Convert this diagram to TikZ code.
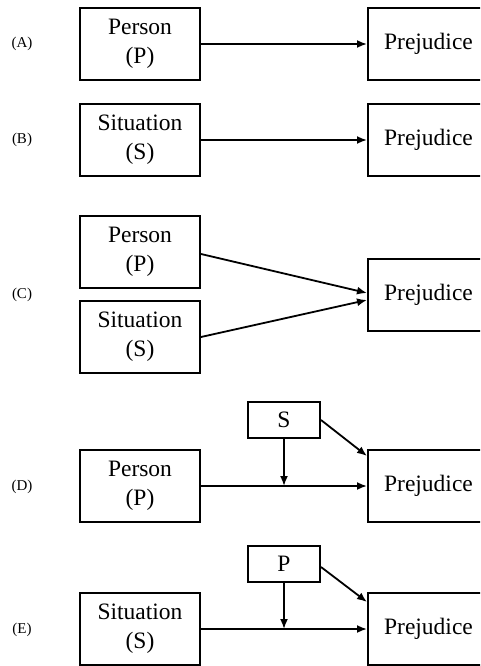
\documentclass[tikz,border=0pt]{standalone}
\usepackage{fontspec}
\setmainfont{Liberation Serif}
\usetikzlibrary{arrows.meta}
\begin{document}
\begin{tikzpicture}[x=1pt,y=-1pt,
  box/.style={draw, line width=2pt, align=center, inner sep=0pt,
    font=\fontsize{23.5}{29}\selectfont},
  bigbox/.style={box, minimum width=120pt, minimum height=72pt},
  prejbox/.style={box, minimum width=121pt, minimum height=72pt},
  smallbox/.style={box, minimum width=72pt, minimum height=36pt},
  lab/.style={font=\fontsize{15}{18}\selectfont},
  arr/.style={line width=1.8pt, -{Latex[length=10pt,width=8pt]}}]
\clip (0,0) rectangle (480,666);
% (A)
\node[lab] (la) at (22,44) {(A)};
\node[bigbox] (pa) at (140,44) {Person\\(P)};
\node[prejbox] (ra) at (428.5,44) {Prejudice};
\draw[arr] (pa) -- (ra);
% (B)
\node[lab] (lb) at (22,140) {(B)};
\node[bigbox] (sb) at (140,140) {Situation\\(S)};
\node[prejbox] (rb) at (428.5,140) {Prejudice};
\draw[arr] (sb) -- (rb);
% (C)
\node[lab] (lc) at (22,295) {(C)};
\node[bigbox] (pc) at (140,252) {Person\\(P)};
\node[bigbox] (sc) at (140,337) {Situation\\(S)};
\node[prejbox] (rc) at (428.5,295) {Prejudice};
\draw[arr] ([yshift=-2pt]pc.east) -- ([yshift=2pt]rc.west);
\draw[arr] (sc.east) -- ([yshift=-5pt]rc.west);
% (D)
\node[lab] (ld) at (22,487) {(D)};
\node[smallbox] (md) at (284,420) {S};
\node[bigbox] (pd) at (140,486) {Person\\(P)};
\node[prejbox] (rd) at (428.5,486) {Prejudice};
\draw[arr] (pd) -- (rd);
\draw[arr] (md.south) -- (md.south |- pd.east);
\draw[arr] (md.east) -- ([yshift=-7pt]rd.north west);
% (E)
\node[lab] (le) at (22,630) {(E)};
\node[smallbox] (me) at (284,564) {P};
\node[bigbox] (se) at (140,629) {Situation\\(S)};
\node[prejbox] (re) at (428.5,629) {Prejudice};
\draw[arr] (se) -- (re);
\draw[arr] (me.south) -- (me.south |- se.east);
\draw[arr] ([yshift=-3pt]me.east) -- ([yshift=-10pt]re.north west);
\end{tikzpicture}
\end{document}
